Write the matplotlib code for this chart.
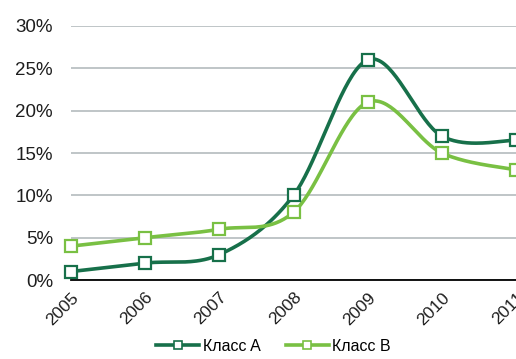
import numpy as np
import matplotlib
matplotlib.use('Agg')
import matplotlib.pyplot as plt
from matplotlib.lines import Line2D

plt.rcParams['font.family'] = ['Liberation Sans', 'DejaVu Sans']

years = [2005, 2006, 2007, 2008, 2009, 2010, 2011]
class_a = [1.0, 2.0, 3.0, 10.0, 26.0, 17.0, 16.5]
class_b = [4.0, 5.0, 6.0, 8.0, 21.0, 15.0, 13.0]
labels = ['Класс A', 'Класс B']
colors = ['#17704a', '#79c043']


def smooth(x, y, steps=40):
    # Bezier segments with control points taken from neighbouring points
    x = np.asarray(x, float)
    y = np.asarray(y, float)
    px = np.concatenate([[x[0]], x, [x[-1]]])
    py = np.concatenate([[y[0]], y, [y[-1]]])
    t = np.linspace(0, 1, steps)[:, None]
    xs, ys = [], []
    for i in range(1, len(px) - 2):
        p0 = np.array([px[i], py[i]])
        p3 = np.array([px[i + 1], py[i + 1]])
        c1 = p0 + (p3 - np.array([px[i - 1], py[i - 1]])) / 6
        c2 = p3 - (np.array([px[i + 2], py[i + 2]]) - p0) / 6
        pts = ((1 - t) ** 3) * p0 + 3 * ((1 - t) ** 2) * t * c1 + 3 * (1 - t) * t ** 2 * c2 + t ** 3 * p3
        xs.append(pts[:, 0])
        ys.append(pts[:, 1])
    return np.concatenate(xs), np.concatenate(ys)


fig = plt.figure(figsize=(5.16, 3.59), dpi=100)
ax = fig.add_axes([0.1376, 0.22, 0.8624, 0.7076])

for vals, col in zip([class_a, class_b], colors):
    sx, sy = smooth(years, vals)
    ax.plot(sx, sy, color=col, lw=2.6, zorder=3, solid_capstyle='round')
    ax.plot(years, vals, ls='none', marker='s', ms=9, mfc='white', mec=col,
            mew=1.6, zorder=4, clip_on=False)

ax.set_xlim(2005, 2011)
ax.set_ylim(0, 30)
ax.set_yticks(range(0, 31, 5))
ax.set_yticklabels([f'{v}%' for v in range(0, 31, 5)], fontsize=13.5, color='#1e1e1e')
ax.set_xticks(years)
ax.set_xticklabels([str(y) for y in years], rotation=45, ha='right',
                   rotation_mode='anchor', fontsize=12.5, color='#1e1e1e')
ax.tick_params(axis='y', length=0, pad=13)
ax.tick_params(axis='x', length=0, pad=7)
ax.yaxis.grid(True, color='#b4bbbe', lw=1.2)
ax.set_axisbelow(True)
for s in ['top', 'right', 'left']:
    ax.spines[s].set_visible(False)
ax.spines['bottom'].set_color('black')
ax.spines['bottom'].set_linewidth(1.3)
ax.spines['bottom'].set_zorder(2)

handles = [Line2D([], [], color=c, lw=2.6, marker='s', ms=6, mfc='white', mec=c, mew=1.2)
           for c in colors]
fig.legend(handles, labels, loc='lower center', bbox_to_anchor=(0.53, -0.025), ncol=2,
           frameon=False, fontsize=11.5, handlelength=2.7, handletextpad=0.2,
           columnspacing=1.6)

fig.savefig('out.png', dpi=100)
